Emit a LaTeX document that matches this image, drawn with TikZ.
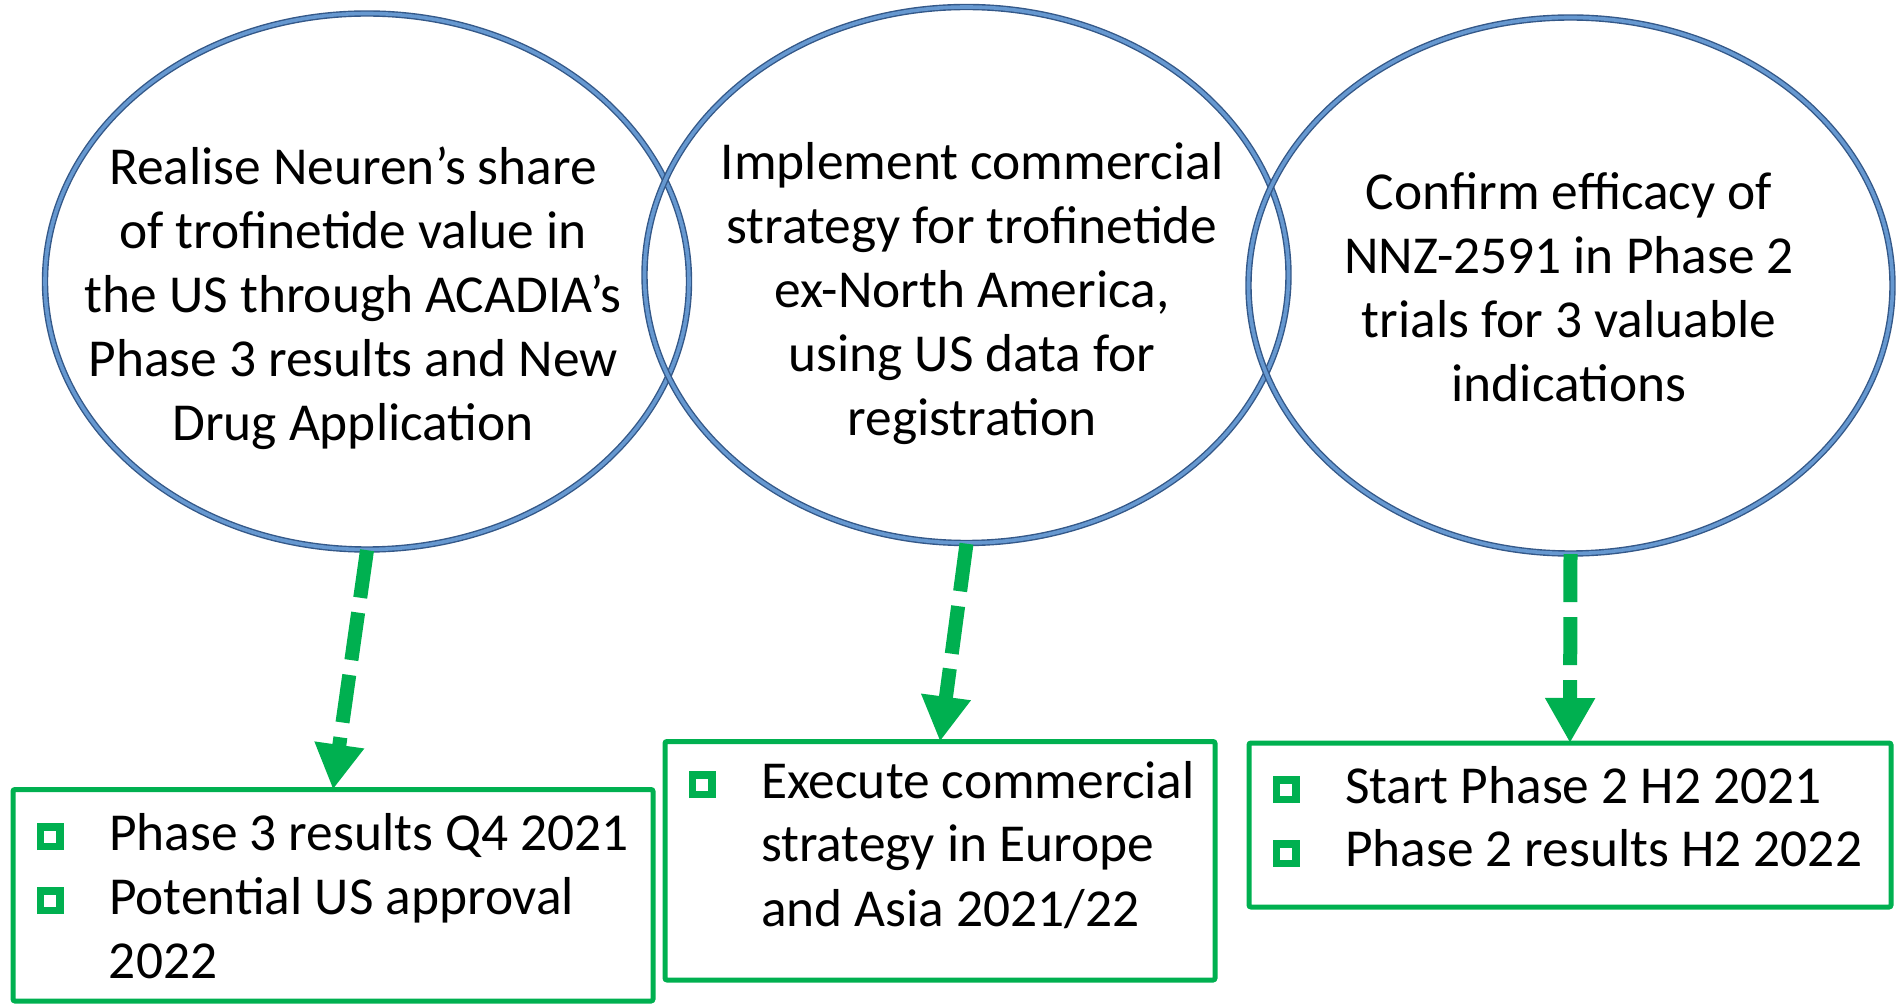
\documentclass[tikz,border=0pt]{standalone}
\usepackage{fontspec}
\setmainfont{Carlito}
\usetikzlibrary{shapes.geometric,arrows.meta}
\definecolor{ringdark}{RGB}{52,88,136}
\definecolor{ringlight}{RGB}{102,152,208}
\definecolor{boxgreen}{RGB}{0,176,80}
% hollow square bullet, sits on the baseline
\newcommand{\sqbul}{\textcolor{boxgreen}{\rule{3.7pt}{13.3pt}\rlap{\rule{5.9pt}{3.7pt}}\raisebox{9.6pt}{\rule{5.9pt}{3.7pt}}\rule{3.7pt}{13.3pt}}}
\newcommand{\bitem}[1]{\makebox[36pt][l]{\sqbul}\mbox{\spaceskip=0pt #1}}
\newcommand{\bcont}[1]{\hspace*{36pt}\mbox{\spaceskip=0pt #1}}
\begin{document}
\begin{tikzpicture}[x=0.5pt,y=-0.5pt,
    font=\fontsize{26.7}{32}\selectfont,
    ring/.style={ellipse,draw=ringdark,line width=0.7pt,double=ringlight,double distance=1.8pt,
      minimum width=322pt,minimum height=268pt,inner sep=0pt},
    goal/.style={align=center,inner sep=0pt},
    milestone/.style={draw=boxgreen,line width=2.5pt,rounded corners=1pt,anchor=north west,
      align=left,inner xsep=12pt,inner ysep=0pt,outer sep=0pt},
    flow/.style={draw=boxgreen,line width=7pt,dash pattern=on 24pt off 7.5pt,
      -{Triangle[width=23.5pt,length=22.5pt]}}]
  \useasboundingbox (0,0) rectangle (1897,1005);
  % the three goals
  \node[ring] (g1) at (367,281.5) {};
  \node[ring] (g2) at (966.5,275) {};
  \node[ring] (g3) at (1570.5,285.5) {};
  \node[goal] (t1) at (353,298) {Realise Neuren’s share\\of trofinetide value in\\the US through ACADIA’s\\Phase 3 results and New\\Drug Application};
  \node[goal] (t2) at (972,294) {Implement commercial\\strategy for trofinetide\\ex-North America,\\using US data for\\registration};
  \node[goal] (t3) at (1569,287) {Confirm efficacy of\\NNZ-2591 in Phase 2\\trials for 3 valuable\\indications};
  % milestones
  \node[milestone,text width=296pt,text height=30.25pt,text depth=75.5pt] (b1) at (13,789.5)
    {\bitem{Phase 3 results Q4 2021}\\\bitem{Potential US approval}\\\bcont{2022}};
  \node[milestone,text width=251pt,text height=28.25pt,text depth=91pt] (b2) at (665,741.5)
    {\bitem{Execute commercial}\\\bcont{strategy in Europe}\\\bcont{and Asia 2021/22}};
  \node[milestone,text width=297pt,text height=30pt,text depth=52pt] (b3) at (1249,743)
    {\bitem{Start Phase 2 H2 2021}\\\bitem{Phase 2 results H2 2022}};
  \draw[flow] (g1.south) -- (b1.north);
  \draw[flow] (g2.south) -- (b2.north);
  \draw[flow] (g3.south) -- (b3.north);
\end{tikzpicture}
\end{document}
